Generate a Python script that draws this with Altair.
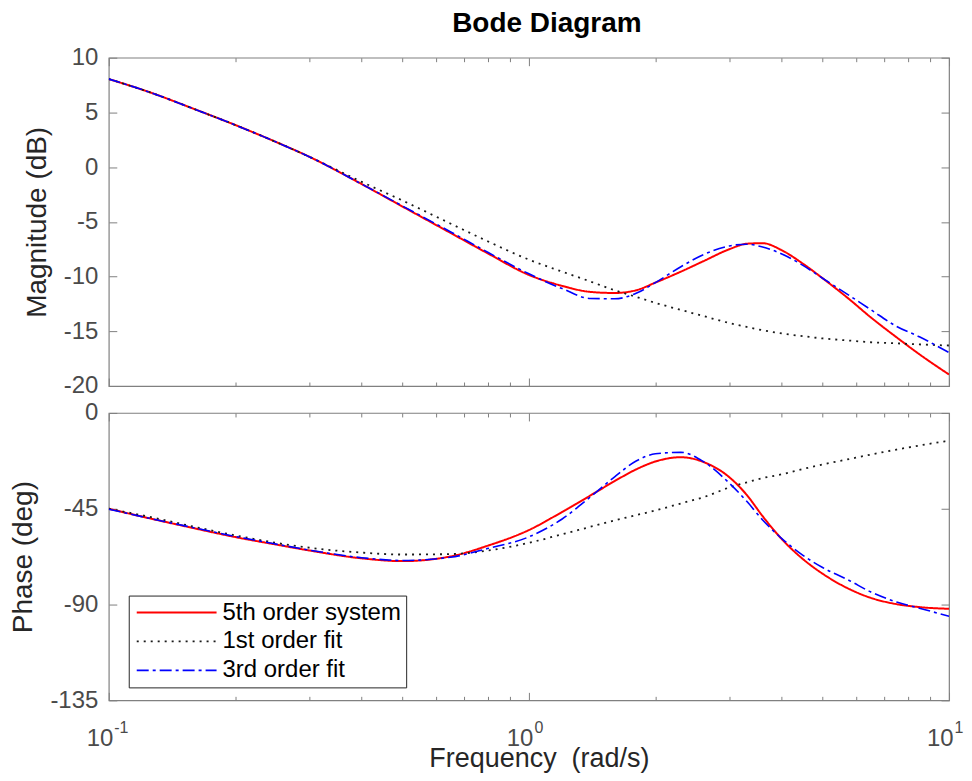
import altair as alt
import pandas as pd

# ---------------- data ----------------
freq = [0.1, 0.125, 0.16, 0.2, 0.25, 0.3, 0.4, 0.5, 0.65, 0.8, 1.0, 1.2, 1.4, 1.6,
        1.8, 2.0, 2.3, 2.6, 3.0, 3.3, 3.6, 4.0, 4.5, 5.0, 5.8, 6.5, 7.5, 8.5, 10.0]

series = ["5th order system", "1st order fit", "3rd order fit"]

mag_5th = [8.05, 6.85, 5.3, 3.85, 2.3, 0.95, -1.55, -3.6, -6.0, -7.9, -9.85, -10.85,
           -11.4, -11.5, -11.25, -10.55, -9.55, -8.6, -7.5, -7.0, -6.95, -7.6, -8.85,
           -10.15, -12.1, -13.7, -15.55, -17.1, -18.95]
mag_1st = [8.05, 6.85, 5.3, 3.85, 2.3, 0.95, -1.35, -3.05, -5.15, -6.8, -8.45, -9.55,
           -10.45, -11.25, -11.85, -12.4, -13.05, -13.6, -14.25, -14.6, -14.9, -15.2,
           -15.45, -15.65, -15.85, -16.0, -16.1, -16.2, -16.3]
mag_3rd = [8.05, 6.85, 5.3, 3.85, 2.3, 0.95, -1.55, -3.55, -5.9, -7.8, -9.75, -11.1,
           -12.0, -12.03, -11.53, -10.55, -9.1, -8.0, -7.2, -7.04, -7.3, -7.93, -9.0,
           -10.15, -11.75, -13.0, -14.55, -15.5, -16.95]

ph_5th = [-45.0, -49.5, -54.2, -58.3, -61.8, -64.6, -68.3, -69.6, -67.4, -62.3, -55.0,
          -46.5, -38.8, -32.0, -26.5, -22.8, -20.8, -23.0, -30.2, -38.5, -48.5, -59.3,
          -68.8, -75.5, -82.8, -86.8, -89.8, -91.2, -92.0]
ph_1st = [-45.0, -48.8, -53.5, -57.5, -61.0, -63.3, -65.6, -66.5, -66.3, -64.6, -61.0,
          -57.0, -53.5, -50.5, -48.0, -45.8, -42.5, -39.6, -35.0, -32.6, -30.6, -28.8,
          -26.3, -24.2, -21.6, -19.6, -17.2, -15.3, -13.0]
ph_3rd = [-45.2, -49.5, -54.0, -58.0, -61.6, -64.4, -68.0, -69.3, -67.8, -63.6, -58.2,
          -49.8, -39.5, -30.0, -22.6, -19.2, -18.5, -22.8, -33.0, -41.5, -50.3, -59.0,
          -67.0, -72.6, -78.8, -84.0, -88.8, -91.7, -95.5]

x_major = [0.1, 1, 10]
x_minor = [0.2, 0.3, 0.4, 0.5, 0.6, 0.7, 0.8, 0.9, 2, 3, 4, 5, 6, 7, 8, 9]
mag_ticks = [-20, -15, -10, -5, 0, 5, 10]
phase_ticks = [-135, -90, -45, 0]

rows = []
for name, mags, phs in zip(series, [mag_5th, mag_1st, mag_3rd], [ph_5th, ph_1st, ph_3rd]):
    for f, m, p in zip(freq, mags, phs):
        rows.append({"freq": f, "series": name, "mag": m, "phase": p})
df = pd.DataFrame(rows)

# ---------------- styling ----------------
FONT = "Liberation Sans"
AX = "#808080"
LBL = "#4a4a4a"
TTL = "#262626"
W = 842
HYPHEN = "(datum.value < 0 ? '-' : '') + abs(datum.value)"

xscale = alt.Scale(type="log", domain=[0.1, 10], nice=False)
color_scale = alt.Scale(domain=series, range=["#ff0000", "#1a1a1a", "#0000ff"])
dash_scale = alt.Scale(domain=series, range=[[1, 0], [2, 5], [12, 4, 3, 4]])
width_scale = alt.Scale(domain=series, range=[2, 1.6, 2])

legend_obj = alt.Legend(
    title=None, orient="none", legendX=20, legendY=183,
    symbolType="M-0.9,0H7.1", symbolSize=400,
    labelFont=FONT, labelFontSize=24, labelColor="#000000", labelOffset=65,
    labelLimit=400, fillColor="#ffffff", strokeColor="#262626",
    padding=5, rowPadding=5,
)


def tick_axis(orient, values, size, offset):
    return alt.Axis(orient=orient, values=values, tickSize=size, offset=offset,
                    tickColor=AX, tickWidth=1, labels=False, domain=False,
                    grid=False, title=None)


def panel(field, ydomain, yvalues, ytitle, height, bottom, legend):
    yscale = alt.Scale(domain=ydomain, nice=False, zero=False)
    base = alt.Chart(df)

    def X(axis):
        return alt.X("freq:Q", scale=xscale, axis=axis)

    def Y(axis):
        return alt.Y(f"{field}:Q", scale=yscale, axis=axis)

    label_x = None
    if bottom:
        label_x = alt.Axis(
            orient="bottom", values=x_major, labelExpr="'10'", labelAlign="right",
            labelOffset=4, labelBaseline="alphabetic", labelPadding=45,
            labelFont=FONT, labelFontSize=24, labelColor=LBL, labelFlush=False,
            labelOverlap=False, ticks=False, domain=False, grid=False,
            title="Frequency\u00a0 (rad/s)", titleFont=FONT, titleFontSize=27,
            titleFontWeight="normal", titleColor=TTL, titleBaseline="alphabetic",
            titleX=431, titleY=66,
        )
    left_axis = alt.Axis(
        orient="left", values=yvalues, labelExpr=HYPHEN, labelFont=FONT,
        labelFontSize=24, labelColor=LBL, labelPadding=11, labelFlush=False,
        labelOverlap=False, ticks=False, domain=False, grid=False, title=ytitle,
        titleFont=FONT, titleFontSize=28, titleFontWeight="normal", titleColor=TTL,
        titlePadding=12,
    )
    leg = legend_obj if legend else None
    lines = base.mark_line(interpolate="monotone", clip=True).encode(
        x=X(label_x),
        y=Y(left_axis),
        color=alt.Color("series:N", scale=color_scale, legend=leg),
        strokeDash=alt.StrokeDash("series:N", scale=dash_scale, legend=leg),
        strokeWidth=alt.StrokeWidth("series:N", scale=width_scale, legend=leg),
        detail="series:N",
    )
    inv = base.mark_point(opacity=0, size=1)
    layers = [
        lines,
        inv.encode(x=X(tick_axis("bottom", x_major, 8, -8)),
                   y=Y(tick_axis("left", yvalues, 8, -8))),
        inv.encode(x=X(tick_axis("bottom", x_minor, 4, -4)),
                   y=Y(tick_axis("right", yvalues, 8, -8))),
        inv.encode(x=X(tick_axis("top", x_major, 8, -8)), y=Y(None)),
        inv.encode(x=X(tick_axis("top", x_minor, 4, -4)), y=Y(None)),
    ]
    if bottom:
        exp_axis = alt.Axis(
            orient="bottom", values=x_major,
            labelExpr="'' + round(log(datum.value) / LN10)", labelAlign="left",
            labelOffset=5, labelBaseline="alphabetic", labelPadding=32,
            labelFont=FONT, labelFontSize=16, labelColor=LBL, labelFlush=False,
            labelOverlap=False, ticks=False, domain=False, grid=False, title=None,
        )
        layers.append(inv.encode(x=X(exp_axis), y=Y(None)))
    ch = alt.layer(*layers).resolve_axis(x="independent", y="independent")
    return ch.properties(width=W, height=height)


top = panel("mag", [-20, 10], mag_ticks, "Magnitude (dB)", 329, False, False).properties(
    title=alt.Title("Bode Diagram", font=FONT, fontSize=28, fontWeight="bold",
                    color="#000000", anchor="middle", frame="group", dx=18, offset=8)
)
bottom = panel("phase", [-135, 0], phase_ticks, "Phase (deg)", 288, True, True)

chart = alt.vconcat(top, bottom, spacing=1).resolve_scale(
    color="independent", strokeDash="independent", strokeWidth="independent"
).resolve_legend(
    color="independent", strokeDash="independent", strokeWidth="independent"
).configure_view(stroke=AX, strokeWidth=1.2).properties(
    padding={"left": 1, "top": 0, "right": 0, "bottom": 0}
)

chart.save("out.html", embed_options={"renderer": "svg", "actions": False})
